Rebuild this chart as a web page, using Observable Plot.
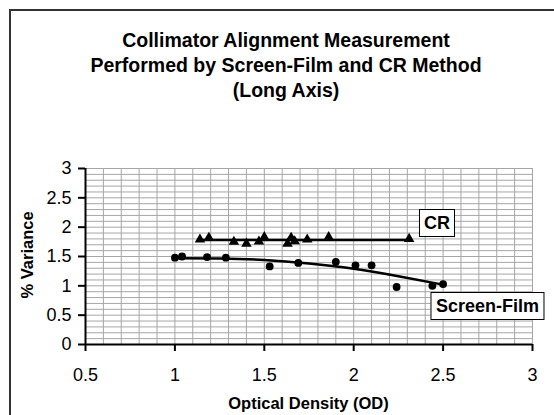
<!DOCTYPE html>
<html>
<head>
<meta charset="utf-8">
<script src="https://cdn.jsdelivr.net/npm/d3@7"></script>
<script src="https://cdn.jsdelivr.net/npm/@observablehq/plot@0.6"></script>
<style>
  html, body { margin: 0; padding: 0; background: #fff; overflow: hidden; }
  #wrap { position: relative; width: 554px; height: 415px; font-family: Arial, "Liberation Sans", sans-serif; color: #000; }
  #frame { position: absolute; left: 9px; top: 9px; width: 700px; height: 700px; border-left: 2px solid #333; border-top: 2px solid #333; }
  #title { position: absolute; left: 0; top: 28px; width: 572px; text-align: center; font-weight: bold; font-size: 19.5px; line-height: 25px; }
  .axt { position: absolute; font-weight: bold; font-size: 16.5px; white-space: nowrap; }
  .lbl { position: absolute; font-weight: bold; font-size: 18px; line-height: 20px; background: #fff; border: 1px solid #000; white-space: nowrap; transform: translate(-50%, -50%); }
  #plot { position: absolute; left: 0; top: 0; }
</style>
</head>
<body>
<div id="wrap">
  <div id="frame"></div>
  <div id="plot"></div>
  <div id="title">Collimator Alignment Measurement<br>Performed by Screen-Film and CR Method<br>(Long Axis)</div>
</div>
<script>
// Screen-Film measurements (circles)
const sfX = [1.00, 1.04, 1.18, 1.285, 1.53, 1.69, 1.90, 2.01, 2.10, 2.24, 2.44, 2.50];
const sfY = [1.48, 1.50, 1.49, 1.48, 1.33, 1.39, 1.41, 1.35, 1.35, 0.98, 1.00, 1.03];
// CR measurements (triangles)
const crX = [1.14, 1.19, 1.33, 1.40, 1.47, 1.50, 1.63, 1.65, 1.67, 1.74, 1.86, 2.31];
const crY = [1.79, 1.82, 1.75, 1.72, 1.755, 1.83, 1.72, 1.82, 1.76, 1.79, 1.83, 1.80];
// Trend lines
const sfTrendX = [1.00, 1.25, 1.50, 1.75, 2.00, 2.25, 2.50];
const sfTrendY = [1.47, 1.465, 1.44, 1.38, 1.29, 1.165, 1.02];
const crTrendX = [1.14, 2.31];
const crTrendY = [1.78, 1.78];
// Ticks
const xTicks = [0.5, 1, 1.5, 2, 2.5, 3];
const yTicks = [0, 0.5, 1, 1.5, 2, 2.5, 3];
// Series labels
const labelText = ["CR", "Screen-Film"];
const labelX = [2.469, 2.751];
const labelY = [2.06, 0.656];

const sf = sfX.map((x, i) => ({x, y: sfY[i]}));
const cr = crX.map((x, i) => ({x, y: crY[i]}));
const sfT = sfTrendX.map((x, i) => ({x, y: sfTrendY[i]}));
const crT = crTrendX.map((x, i) => ({x, y: crTrendY[i]}));

const plot = Plot.plot({
  width: 554,
  height: 415,
  marginLeft: 85,
  marginRight: 22,
  marginTop: 168,
  marginBottom: 71,
  x: {domain: [0.5, 3]},
  y: {domain: [0, 3]},
  style: {fontFamily: "Arial, 'Liberation Sans', sans-serif", fontSize: "18px", color: "#000", background: "transparent"},
  marks: [
    Plot.gridX({ticks: 25, stroke: "#a6a6a6", strokeOpacity: 1, strokeWidth: 1}),
    Plot.gridY({ticks: 30, stroke: "#a6a6a6", strokeOpacity: 1, strokeWidth: 1}),
    Plot.axisX({ticks: xTicks, tickSize: 7, tickPadding: 17, tickFormat: d => String(d), label: null, strokeWidth: 2}),
    Plot.axisY({ticks: yTicks, tickSize: 7, tickPadding: 7, tickFormat: d => String(d), label: null, strokeWidth: 2}),
    Plot.ruleX([0.5], {stroke: "#000", strokeWidth: 2}),
    Plot.ruleY([0], {stroke: "#000", strokeWidth: 2}),
    Plot.line(crT, {x: "x", y: "y", stroke: "#000", strokeWidth: 2.5}),
    Plot.line(sfT, {x: "x", y: "y", stroke: "#000", strokeWidth: 2.5, curve: "natural"}),
    Plot.dot(cr, {x: "x", y: "y", symbol: "triangle", fill: "#000", r: 3.9}),
    Plot.dot(sf, {x: "x", y: "y", fill: "#000", r: 3.9})
  ]
});
document.getElementById("plot").appendChild(plot);

const wrap = document.getElementById("wrap");
const sx = plot.scale("x"), sy = plot.scale("y");
labelText.forEach((t, i) => {
  const d = document.createElement("div");
  d.className = "lbl";
  d.textContent = t;
  d.style.left = sx.apply(labelX[i]) + "px";
  d.style.top = sy.apply(labelY[i]) + "px";
  d.style.padding = "3px 4px";
  wrap.appendChild(d);
});

const yt = document.createElement("div");
yt.className = "axt";
yt.textContent = "% Variance";
yt.style.left = "27px";
yt.style.top = "255px";
yt.style.transform = "translate(-50%, -50%) rotate(-90deg)";
wrap.appendChild(yt);

const xt = document.createElement("div");
xt.className = "axt";
xt.textContent = "Optical Density (OD)";
xt.style.left = ((sx.apply(0.5) + sx.apply(3)) / 2) + "px";
xt.style.top = "403px";
xt.style.transform = "translate(-50%, -50%)";
wrap.appendChild(xt);
</script>
</body>
</html>
